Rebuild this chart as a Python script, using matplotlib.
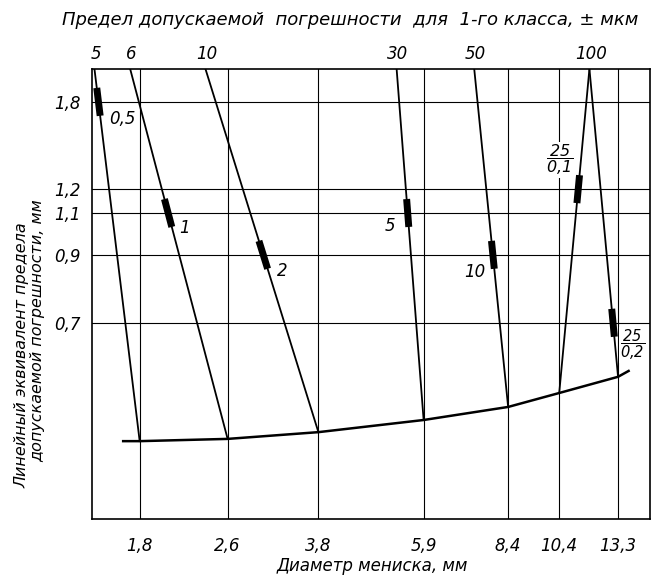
import matplotlib
matplotlib.use('Agg')
import matplotlib.pyplot as plt
import numpy as np

plt.rcParams['font.family'] = ['DejaVu Sans']
plt.rcParams['font.style'] = 'italic'
plt.rcParams['mathtext.fontset'] = 'custom'
plt.rcParams['mathtext.rm'] = 'DejaVu Sans:italic'
plt.rcParams['mathtext.it'] = 'DejaVu Sans:italic'

# bottom scale: meniscus diameter, mm
diameters = [1.8, 2.6, 3.8, 5.9, 8.4, 10.4, 13.3]

# left scale: linear equivalent levels, mm, and their height on the chart (0..100)
levels = [1.8, 1.2, 1.1, 0.9, 0.7]
level_h = [92.7, 73.3, 68.0, 58.7, 43.6]

# meniscus curve at the bottom
curve_d = [1.68, 1.8, 2.6, 3.8, 5.9, 8.4, 10.4, 13.3, 13.9]
curve_h = [17.3, 17.3, 17.8, 19.3, 22.0, 24.9, 28.0, 31.6, 32.9]

# slanted lines: error limit at the top, where it hits the top edge,
# which diameter it ends on and where its mark sits
err_limits = ['5', '6', '10', '30', '50', '100', '100']
top_d = [1.49, 1.73, 2.37, 5.27, 7.29, 11.8, 11.8]
bottom_d = [1.8, 2.6, 3.8, 5.9, 8.4, 10.4, 13.3]
mark_level = [1.8, 1.1, 0.9, 1.1, 0.9, 1.2, 0.7]
mark_labels = ['0,5', '1', '2', '5', '10',
               r'$\dfrac{25}{0{,}1}$', r'$\dfrac{25}{0{,}2}$']
label_off = [(17, -12), (12, -11), (14, -11.5), (-13, -9.5), (-13, -12), (-13, 21), (14, -16)]
label_size = [12, 12, 12, 12, 12, 11.5, 10.5]


def comma(v):
    return ('%g' % v).replace('.', ',')


fig = plt.figure(figsize=(6.67, 5.75), dpi=100)
ax = fig.add_axes([0.138, 0.0974, 0.8365, 0.7826])
ax.set_xscale('log')
ax.set_xlim(1.475, 15.2)
ax.set_ylim(0, 100)

for s in ax.spines.values():
    s.set_linewidth(1.2)
    s.set_color('black')
    s.set_zorder(6)

# grid of the nomogram
for d in diameters:
    ax.plot([d, d], [0, 100], color='black', lw=0.8, zorder=1)
for h in level_h:
    ax.plot([1.475, 15.2], [h, h], color='black', lw=0.8, zorder=1)

ax.set_xticks(diameters)
ax.set_xticklabels([comma(d) for d in diameters])
ax.set_yticks(level_h)
ax.set_yticklabels([comma(v) for v in levels])
ax.xaxis.set_minor_locator(matplotlib.ticker.NullLocator())
ax.tick_params(length=0, labelsize=12, pad=8)
ax.tick_params(axis='x', pad=13)

# meniscus curve
ax.plot(curve_d, curve_h, color='black', lw=1.8, zorder=3)

lev = dict(zip(levels, level_h))
curve_at = dict(zip(curve_d, curve_h))
for i in range(len(err_limits)):
    td, bd = top_d[i], bottom_d[i]
    hb = curve_at[bd]
    ax.plot([td, bd], [100, hb], color='black', lw=1.3, zorder=3)

    def x_at(h):
        t = (h - hb) / (100 - hb)
        return 10 ** (np.log10(bd) + t * (np.log10(td) - np.log10(bd)))

    hm = lev[mark_level[i]]
    ax.plot([x_at(hm - 3.1), x_at(hm + 3.1)], [hm - 3.1, hm + 3.1],
            color='black', lw=5, solid_capstyle='butt', zorder=4)
    ax.annotate(mark_labels[i], (x_at(hm), hm), xytext=label_off[i],
                textcoords='offset points', ha='center', va='center',
                fontsize=label_size[i], zorder=5,
                bbox=dict(boxstyle='square,pad=0.05', fc='white', ec='none'))

# error limits along the top edge
for lab, td in zip(err_limits[:-1], top_d[:-1]):
    ax.annotate(lab, (td, 100), xytext=(1, 4), textcoords='offset points',
                ha='center', va='bottom', fontsize=12, annotation_clip=False)

fig.text(0.093, 0.965, 'Предел допускаемой  погрешности  для  1-го класса, ± мкм',
         fontsize=13, ha='left', va='center')
fig.text(0.558, 0.016, 'Диаметр мениска, мм', fontsize=12, ha='center', va='center')
fig.text(0.033, 0.383, 'Линейный эквивалент предела', rotation=90,
         fontsize=11.5, ha='center', va='center')
fig.text(0.056, 0.425, 'допускаемой погрешности, мм', rotation=90,
         fontsize=11.5, ha='center', va='center')

fig.savefig('out.png', dpi=100)
